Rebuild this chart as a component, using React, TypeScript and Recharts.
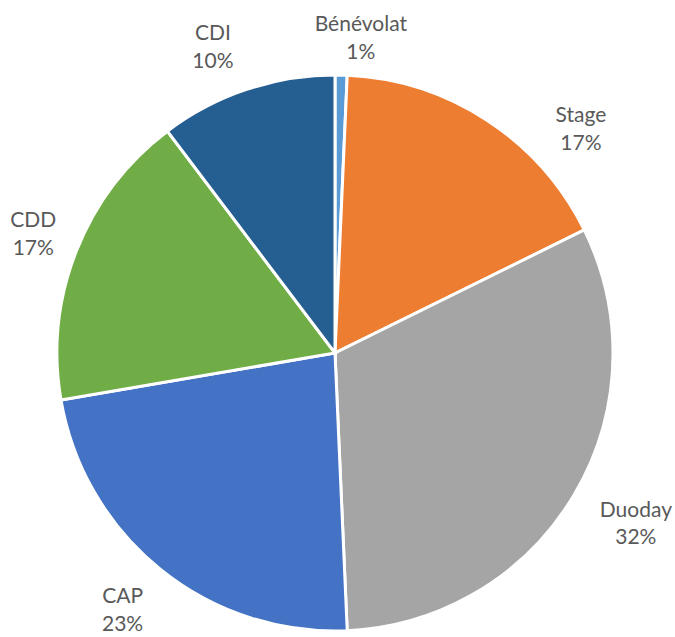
import { PieChart, Pie, Cell } from "recharts";

// données (parts estimées, en %)
const categories: string[] = ["Bénévolat", "Stage", "Duoday", "CAP", "CDD", "CDI"];
const shares: number[] = [0.7, 17.0, 31.6, 23.0, 17.4, 10.3];
const colors: string[] = ["#5B9BD5", "#ED7D31", "#A5A5A5", "#4472C4", "#70AD47", "#255E91"];

// placement des étiquettes : décalage angulaire (deg) et rayon supplémentaire
const labelShift: number[] = [3.4, 14.3, -1.3, 0.9, 0.2, -3.1];
const labelGap: number[] = [40, 56, 67, 54, 47, 53];

const data = categories.map((name, i) => ({ name, value: shares[i] }));

type LabelProps = {
  cx?: number;
  cy?: number;
  midAngle?: number;
  outerRadius?: number;
  index?: number;
  name?: string;
  percent?: number;
};

const RAD = Math.PI / 180;

const OutsideLabel = ({ cx = 0, cy = 0, midAngle = 0, outerRadius = 0, index = 0, name = "", percent = 0 }: LabelProps) => {
  // angle compté depuis le haut, sens horaire
  const a = (90 - midAngle + labelShift[index]) * RAD;
  const r = outerRadius + labelGap[index];
  const x = cx + r * Math.sin(a);
  const y = cy - r * Math.cos(a);
  return (
    <text
      x={x}
      y={y}
      textAnchor="middle"
      fill="#595959"
      fontSize={21}
      fontFamily="Lato, 'Open Sans', sans-serif"
    >
      <tspan x={x} y={y - 13.5} dominantBaseline="central">{name}</tspan>
      <tspan x={x} y={y + 14} dominantBaseline="central">{`${Math.round(percent * 100)}%`}</tspan>
    </text>
  );
};

export default function App() {
  return (
    <div style={{ position: "absolute", left: 0, top: 0, width: 675, height: 637, background: "#fff" }}>
      <PieChart width={675} height={637} margin={{ top: 0, right: 0, bottom: 0, left: 0 }}>
        <Pie
          data={data}
          dataKey="value"
          nameKey="name"
          cx={335}
          cy={353}
          outerRadius={278}
          startAngle={90}
          endAngle={-270}
          stroke="#fff"
          strokeWidth={3}
          labelLine={false}
          label={<OutsideLabel />}
          isAnimationActive={false}
        >
          {data.map((d, i) => (
            <Cell key={d.name} fill={colors[i]} />
          ))}
        </Pie>
      </PieChart>
    </div>
  );
}
